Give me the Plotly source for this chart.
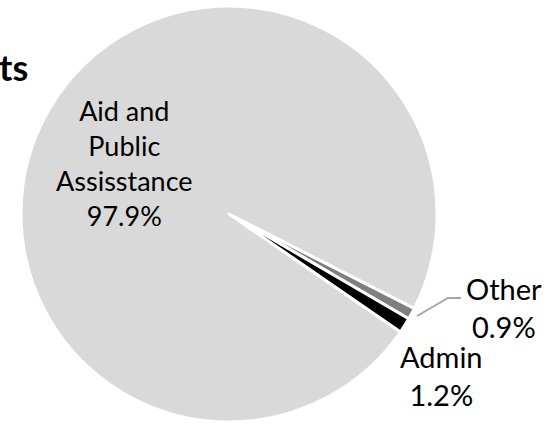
import plotly.graph_objects as go

# Data
labels = ["Other", "Admin", "Aid and Public Assisstance"]
label_lines = ["Other", "Admin", "Aid and<br>Public<br>Assisstance"]
values = [0.9, 1.2, 97.9]
colors = ["#7f7f7f", "#000000", "#d9d9d9"]
title_fragment = "ts"

W, H = 554, 425
FONT = "Lato"

fig = go.Figure(go.Pie(
    labels=labels,
    values=values,
    sort=False,
    direction="clockwise",
    rotation=117,
    marker=dict(colors=colors, line=dict(color="white", width=3)),
    textinfo="none",
    hoverinfo="label+percent",
    domain=dict(x=[20 / W, 438 / W], y=[(H - 422) / H, (H - 6) / H]),
))

def px(x, y):
    return x / W, (H - y) / H

label_pos = {"Aid and Public Assisstance": (124, 163), "Other": (504, 307), "Admin": (441, 375)}
label_size = {"Aid and Public Assisstance": 27, "Other": 29, "Admin": 29}
for lab, lines, v in zip(labels, label_lines, values):
    x, y = px(*label_pos[lab])
    fig.add_annotation(x=x, y=y, xref="paper", yref="paper", text=f"{lines}<br>{v:.1f}%",
                       showarrow=False, xanchor="center", yanchor="middle",
                       font=dict(family=FONT, size=label_size[lab], color="black"), align="center")

tx, ty = px(30, 67)
fig.add_annotation(x=tx, y=ty, xref="paper", yref="paper", text=f"<b>{title_fragment}</b>",
                   showarrow=False, xanchor="right", yanchor="middle",
                   font=dict(family=FONT, size=36, color="black"))

pts = [px(417, 316), px(448, 298), px(461, 298)]
path = "M " + " L ".join(f"{a},{b}" for a, b in pts)
fig.add_shape(type="path", path=path, xref="paper", yref="paper",
              line=dict(color="#a6a6a6", width=2))

fig.update_layout(width=W, height=H, margin=dict(l=0, r=0, t=0, b=0),
                  paper_bgcolor="white", plot_bgcolor="white", showlegend=False)
fig.write_html("out.html")
